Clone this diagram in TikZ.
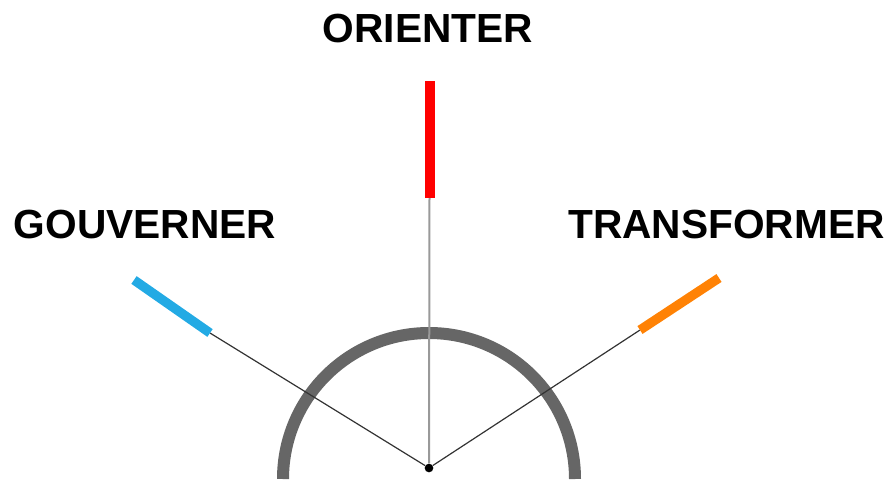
\documentclass[tikz,border=0pt]{standalone}
\usepackage{fontspec}
\setmainfont{Liberation Sans}
\begin{document}
\begin{tikzpicture}[x=0.75pt,y=-0.75pt,
  lbl/.style={inner sep=0pt,anchor=base,font=\fontsize{30.5}{36}\selectfont\bfseries},
  thinray/.style={draw=black!80,line width=0.9pt},
  midray/.style={draw=black!40,line width=1.5pt},
  bar/.style={line width=7pt,line cap=butt}]
\useasboundingbox (0,0) rectangle (890,479);
\definecolor{barblue}{HTML}{23AAE4}
\definecolor{barorange}{HTML}{FF8205}
\definecolor{arcgray}{HTML}{666666}
% arc
\draw[arcgray,line width=9pt] (575,479) arc[start angle=0,end angle=-180,radius=146];
% centre dot
\node[circle,fill=black,inner sep=0pt,minimum size=6.5pt] (c) at (429,468) {};
% bar end points
\coordinate (bl1) at (210,333);
\coordinate (bl2) at (134,280);
\coordinate (rd1) at (429.5,198);
\coordinate (rd2) at (429.5,81);
\coordinate (or1) at (640,330);
\coordinate (or2) at (719,278);
% rays
\draw[thinray] (c) -- (bl1);
\draw[thinray] (c) -- (or1);
\draw[midray] (c) -- (rd1);
% bars
\draw[bar,draw=barblue] (bl1) -- (bl2);
\draw[bar,draw=red,line width=7.5pt] (rd1) -- (rd2);
\draw[bar,draw=barorange] (or1) -- (or2);
% labels
\node[lbl] (gouv) at (145,238) {GOUVERNER};
\node[lbl] (orient) at (428,42) {ORIENTER};
\node[lbl] (trans) at (726.5,238) {TRANSFORMER};
\end{tikzpicture}
\end{document}
